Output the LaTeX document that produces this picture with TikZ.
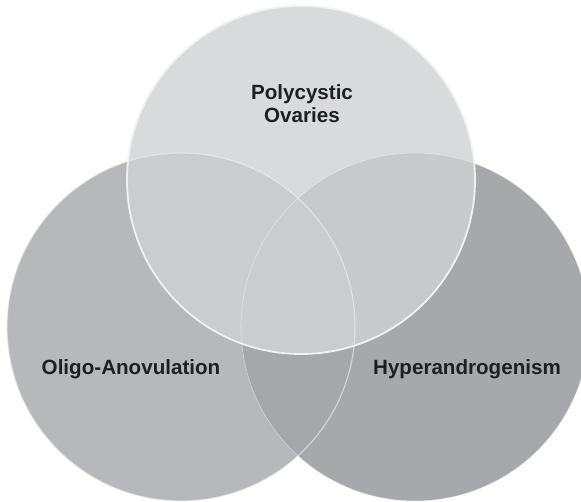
\documentclass[tikz,border=0pt]{standalone}
\usepackage{fontspec}
\setmainfont{Liberation Sans}

\definecolor{topgray}{HTML}{D9DADC}
\definecolor{leftgray}{HTML}{B7B8BB}
\definecolor{rightgray}{HTML}{A7A8AB}
\definecolor{lowgray}{HTML}{A6A7AA}
\definecolor{tlgray}{HTML}{CBCCCE}
\definecolor{trgray}{HTML}{C8C9CB}
\definecolor{midgray}{HTML}{CBCCCE}
\definecolor{rimwhite}{HTML}{F1F1F2}

\begin{document}
\begin{tikzpicture}[x=1pt,y=1pt,
    setlabel/.style={font=\bfseries\fontsize{20.6}{23}\selectfont, text=black!88, align=center, inner sep=0pt},
    rim/.style={draw=rimwhite, line width=1.8pt}]
  \useasboundingbox (0,0) rectangle (581,502);
  \def\rad{174}
  \coordinate (po) at (301,322);
  \coordinate (oa) at (181,175);
  \coordinate (ha) at (415,175);
  % plain sets
  \fill[leftgray] (oa) circle (\rad);
  \fill[rightgray] (ha) circle (\rad);
  \begin{scope}
    \clip (oa) circle (\rad);
    \fill[lowgray] (ha) circle (\rad);
  \end{scope}
  \fill[topgray] (po) circle (\rad);
  % overlaps with the top set
  \begin{scope}
    \clip (po) circle (\rad);
    \fill[tlgray] (oa) circle (\rad);
    \fill[trgray] (ha) circle (\rad);
    \clip (oa) circle (\rad);
    \fill[midgray] (ha) circle (\rad);
  \end{scope}
  % rims
  \draw[rim, line width=1.2pt, opacity=0.6] (oa) circle (\rad);
  \draw[rim, line width=0.6pt, opacity=0.6] (ha) circle (\rad);
  \draw[rim] (po) circle (\rad);
  % labels
  \node[setlabel, anchor=base] (pco) at (302,379) {Polycystic\\Ovaries};
  \node[setlabel, anchor=base] (oli) at (131,127) {Oligo-Anovulation};
  \node[setlabel, anchor=base] (hyp) at (467,127) {Hyperandrogenism};
\end{tikzpicture}
\end{document}
